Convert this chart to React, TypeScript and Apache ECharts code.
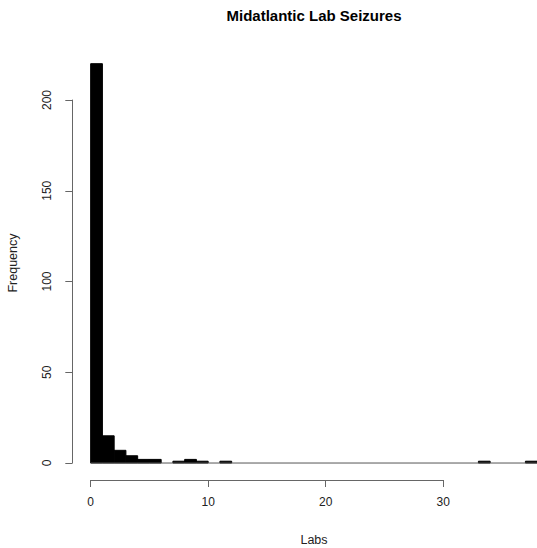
import React, { useEffect, useRef } from "react";
import * as echarts from "echarts";

// Histogram of labs seized (bin width 1, bins start at 0)
const binWidth = 1;
const counts = [
  220, 15, 7, 4, 2, 2, 0, 1, 2, 1, 0, 1,
  0, 0, 0, 0, 0, 0, 0, 0, 0, 0, 0, 0, 0, 0, 0, 0, 0, 0, 0, 0, 0,
  1, 0, 0, 0, 1,
];
const binStarts = counts.map((_, i) => i * binWidth);
const xTicks = [0, 10, 20, 30];
const yTicks = [0, 50, 100, 150, 200];
const titleText = "Midatlantic Lab Seizures";
const xLabel = "Labs";
const yLabel = "Frequency";

const FONT = "'Liberation Sans', Arial, sans-serif";
const W = 570;
const H = 548;

export default function App() {
  const ref = useRef<HTMLDivElement>(null);
  useEffect(() => {
    if (!ref.current) return;
    const chart = echarts.init(ref.current, undefined, { renderer: "svg" });
    const xMaxData = binStarts[binStarts.length - 1] + binWidth;
    const yMaxData = Math.max(...counts);
    // R-style 4% padding
    const xPad = xMaxData * 0.04;
    const yPad = yMaxData * 0.04;
    const plotLeft = 72.8;
    const plotTop = 47.7;
    const plotBottom = 479;
    const pxPerX = 11.75;
    const plotWidth = (xMaxData + 2 * xPad) * pxPerX;
    const pxPerY = 1.815;
    const x0 = plotLeft + xPad * pxPerX;
    const y0 = plotBottom - yPad * pxPerY;

    const data = binStarts.map((s, i) => [s, counts[i]]);

    chart.setOption({
      animation: false,
      textStyle: { fontFamily: FONT },
      grid: [
        { left: plotLeft, top: plotTop, width: plotWidth, height: plotBottom - plotTop, containLabel: false },
        { left: x0, top: plotTop, width: xTicks[xTicks.length - 1] * pxPerX, height: 480 - plotTop },
        { left: 72.3, top: y0 - yTicks[yTicks.length - 1] * pxPerY, width: 100, height: yTicks[yTicks.length - 1] * pxPerY },
      ],
      xAxis: [
        { type: "value", gridIndex: 0, min: -xPad, max: xMaxData + xPad, show: false },
        {
          type: "value", gridIndex: 1, min: 0, max: xTicks[xTicks.length - 1], interval: 10,
          axisLine: { show: true, lineStyle: { color: "#666", width: 1 } },
          axisTick: { show: true, inside: false, length: 7, lineStyle: { color: "#666" } },
          axisLabel: { show: true, margin: 16, color: "#222", fontSize: 12, fontFamily: FONT, formatter: (v: number) => (xTicks.includes(v) ? String(v) : "") },
          splitLine: { show: false },
        },
        { type: "value", gridIndex: 2, show: false, min: 0, max: 1 },
      ],
      yAxis: [
        { type: "value", gridIndex: 0, min: -yPad, max: yMaxData + yPad, show: false },
        { type: "value", gridIndex: 1, show: false, min: 0, max: 1 },
        {
          type: "value", gridIndex: 2, min: 0, max: yTicks[yTicks.length - 1], interval: 50,
          axisLine: { show: true, lineStyle: { color: "#666", width: 1 } },
          axisTick: { show: true, inside: false, length: 7, lineStyle: { color: "#666" } },
          axisLabel: { show: true, rotate: 90, margin: 19, color: "#222", fontSize: 12, fontFamily: FONT },
          splitLine: { show: false },
        },
      ],
      graphic: [
        { type: "text", x: 314, y: 15, style: { text: titleText, fill: "#000", font: `bold 15px ${FONT}`, textAlign: "center", textVerticalAlign: "middle" } },
        { type: "text", x: 314, y: 540, style: { text: xLabel, fill: "#222", font: `12.5px ${FONT}`, textAlign: "center", textVerticalAlign: "middle" } },
        { type: "text", x: 13, y: 263, rotation: Math.PI / 2, style: { text: yLabel, fill: "#222", font: `12.5px ${FONT}`, textAlign: "center", textVerticalAlign: "middle" } },
      ],
      series: [
        {
          type: "line", xAxisIndex: 0, yAxisIndex: 0, symbol: "none", silent: true,
          data: [[binStarts[0], 0], [xMaxData, 0]],
          lineStyle: { color: "#555", width: 1 },
        },
        {
          type: "custom", xAxisIndex: 0, yAxisIndex: 0, silent: true,
          data,
          renderItem: (params: any, api: any) => {
            const x = api.value(0);
            const y = api.value(1);
            if (!y) return null;
            const p0 = api.coord([x, y]);
            const p1 = api.coord([x + binWidth, 0]);
            return {
              type: "rect",
              shape: { x: p0[0], y: p0[1], width: p1[0] - p0[0], height: p1[1] - p0[1] },
              style: { fill: "#000", stroke: "#000", lineWidth: 1 },
            };
          },
        },
      ],
    });
    return () => chart.dispose();
  }, []);
  return (
    <div style={{ position: "absolute", left: 0, top: 0, width: 537, height: H, overflow: "hidden", background: "#fff" }}>
      <div ref={ref} style={{ width: W, height: H }} />
    </div>
  );
}
